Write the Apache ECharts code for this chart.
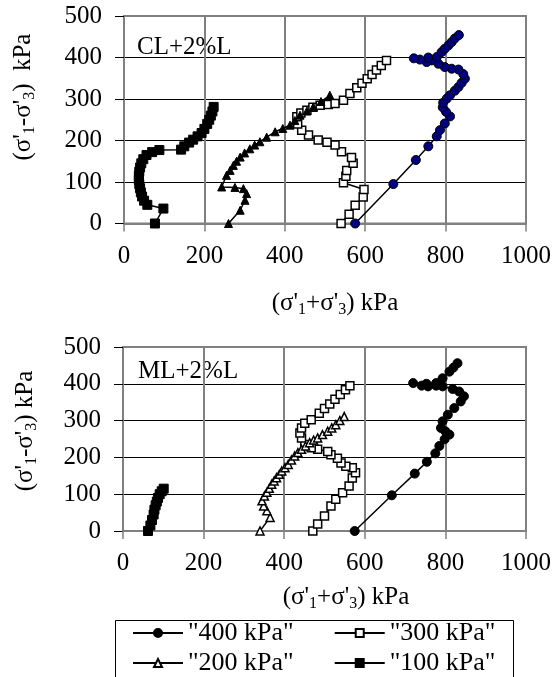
<!DOCTYPE html>
<html><head><meta charset="utf-8">
<script src="https://cdn.jsdelivr.net/npm/echarts@6/dist/echarts.min.js"></script>
<style>html,body{margin:0;padding:0;background:#fff}#c{width:554px;height:677px}</style>
</head><body><div id="c"></div>
<script>
const FONT = 'Liberation Serif';
const xTicks = [0, 200, 400, 600, 800, 1000];
const yTicks = [0, 100, 200, 300, 400, 500];
const seriesNames = ['"400 kPa"', '"300 kPa"', '"200 kPa"', '"100 kPa"'];
const panelLabels = ['CL+2%L', 'ML+2%L'];

// Top panel (CL+2%L)
const cl400 = [[575,0],[670,95],[726,153],[757,186],[778,210],[786,225],[798,241],[811,258],[801,269],[793,280],[794,291],[803,301],[811,309],[823,320],[832,329],[840,339],[848,349],[844,360],[832,371],[815,373],[798,377],[782,385],[765,393],[753,389],[736,395],[721,398],[757,400],[778,401],[790,413],[798,421],[807,429],[815,437],[823,446],[833,454]];
const cl300 = [[540,0],[560,22],[575,44],[595,64],[597,82],[546,98],[552,114],[554,128],[570,145],[566,159],[541,173],[525,189],[505,196],[483,201],[459,213],[442,225],[432,240],[430,257],[440,266],[455,273],[470,280],[488,285],[508,287],[525,289],[546,297],[562,313],[579,327],[592,338],[605,349],[617,359],[628,370],[640,381],[653,393]];
const cl200 = [[260,0],[289,32],[301,56],[305,72],[297,84],[276,87],[243,88],[255,116],[264,128],[272,140],[280,150],[289,160],[300,170],[313,180],[325,189],[338,197],[355,208],[376,221],[395,229],[413,237],[425,248],[438,261],[455,271],[471,281],[490,294],[512,309]];
const cl100 = [[77,0],[98,36],[58,45],[50,55],[45,65],[42,75],[40,85],[38,95],[37,105],[37,115],[38,125],[40,135],[43,145],[48,155],[56,165],[70,172],[88,177],[142,178],[150,186],[162,195],[172,202],[183,210],[193,218],[200,228],[207,240],[212,250],[216,260],[220,270],[223,281]];

// Bottom panel (ML+2%L)
const ml400 = [[575,0],[667,97],[724,156],[754,188],[775,211],[785,231],[798,249],[810,262],[800,271],[789,280],[793,298],[806,316],[822,334],[838,352],[846,366],[834,379],[818,386],[793,393],[777,395],[757,393],[741,395],[720,402],[753,400],[777,402],[793,415],[810,433],[820,444],[830,456]];
const ml300 = [[471,0],[483,19],[500,41],[516,68],[528,86],[545,104],[561,122],[569,144],[577,158],[569,172],[553,176],[541,185],[532,198],[516,207],[508,216],[483,222],[467,226],[451,235],[443,253],[439,266],[443,280],[451,293],[467,302],[487,320],[500,333],[513,345],[526,358],[539,371],[552,384],[563,395]];
const ml200 = [[340,0],[365,37],[357,55],[349,68],[345,82],[351,95],[357,105],[363,116],[369,127],[375,136],[381,145],[388,154],[394,163],[402,172],[410,181],[418,193],[426,204],[434,213],[443,222],[453,231],[463,240],[473,247],[483,253],[495,262],[508,271],[518,280],[528,289],[538,300],[549,311]];
const ml100 = [[62,0],[68,15],[72,30],[76,45],[78,58],[81,70],[84,80],[87,90],[91,100],[96,108],[101,115]];

function mk(name, data, g, symbol, fill, size, bw) {
  return {
    type: 'line', name: name, data: data, xAxisIndex: g, yAxisIndex: g,
    symbol: symbol, symbolSize: size, showSymbol: true, clip: false,
    lineStyle: { color: '#000', width: 1.5 },
    itemStyle: { color: fill, borderColor: '#000', borderWidth: bw },
    emphasis: { disabled: true }, animation: false
  };
}

function xAx(g) {
  return {
    type: 'value', gridIndex: g, min: xTicks[0], max: xTicks[xTicks.length - 1], interval: 200,
    axisLine: { show: true, onZero: false, lineStyle: { color: '#808080', width: 2 } },
    axisTick: { show: true, inside: false, length: 8, lineStyle: { color: '#808080', width: 1.5 } },
    axisLabel: { fontFamily: FONT, fontSize: 25, color: '#000', margin: 20, formatter: function (v) { return String(v); } },
    splitLine: { show: true, lineStyle: { color: '#808080', width: 2 } }
  };
}
function yAx(g) {
  return {
    type: 'value', gridIndex: g, min: yTicks[0], max: yTicks[yTicks.length - 1], interval: 100,
    axisLine: { show: true, lineStyle: { color: '#808080', width: 2 } },
    axisTick: { show: true, inside: false, length: 9, lineStyle: { color: '#000', width: 1 } },
    axisLabel: { fontFamily: FONT, fontSize: 25, color: '#000', margin: 22, formatter: function (v) { return String(v); } },
    splitLine: { show: true, lineStyle: { color: ['#808080', '#000', '#000', '#000', '#000', '#808080'], width: 1 } }
  };
}

const rich = {
  n: { fontFamily: FONT, fontSize: 25, fill: '#000', color: '#000' },
  s: { fontFamily: FONT, fontSize: 16, fill: '#000', color: '#000', padding: [14, 0, 0, 0] }
};
function axisTitle(text, x, y, rot) {
  return {
    type: 'text', x: x, y: y, rotation: rot, silent: true,
    style: { text: text, rich: rich, textAlign: 'center', textVerticalAlign: 'middle', fill: '#000' }
  };
}
const yTitleTop = "{n|(σ'}{s|1}{n|-σ'}{s|3}{n|)  kPa}";
const yTitleBot = "{n|(σ'}{s|1}{n|-σ'}{s|3}{n|) kPa}";
const xTitle = "{n|(σ'}{s|1}{n|+σ'}{s|3}{n|) kPa}";

const chart = echarts.init(document.getElementById('c'), null, { renderer: 'canvas' });
const legendText = { fontFamily: FONT, fontSize: 26, color: '#000' };
chart.setOption({
  backgroundColor: '#fff',
  animation: false,
  grid: [
    { left: 124, top: 16, width: 402, height: 207.5, show: true, borderColor: '#808080', borderWidth: 2, backgroundColor: 'transparent' },
    { left: 123, top: 347, width: 403, height: 184, show: true, borderColor: '#808080', borderWidth: 2, backgroundColor: 'transparent' }
  ],
  xAxis: [xAx(0), xAx(1)],
  yAxis: [yAx(0), yAx(1)],
  legend: [
    { left: 132, top: 620, padding: 0, itemWidth: 50, itemHeight: 10, itemGap: 40, textStyle: legendText,
      data: [seriesNames[0], seriesNames[1]], selectedMode: false },
    { left: 132, top: 650, padding: 0, itemWidth: 50, itemHeight: 10, itemGap: 40, textStyle: legendText,
      data: [seriesNames[2], seriesNames[3]], selectedMode: false }
  ],
  series: [
    mk(seriesNames[0], ml400, 1, 'circle', '#000', 9, 1),
    mk(seriesNames[1], ml300, 1, 'rect', '#fff', 8, 1.5),
    mk(seriesNames[2], ml200, 1, 'triangle', '#fff', 8, 1.5),
    mk(seriesNames[3], ml100, 1, 'rect', '#000', 9, 1),
    mk(seriesNames[0], cl400, 0, 'circle', '#000080', 9, 1),
    mk(seriesNames[1], cl300, 0, 'rect', '#fff', 8, 1.5),
    mk(seriesNames[2], cl200, 0, 'triangle', '#000', 8, 1),
    mk(seriesNames[3], cl100, 0, 'rect', '#000', 9, 1)
  ],
  graphic: [
    { type: 'text', x: 137, y: 47, silent: true, style: { text: panelLabels[0], font: '25px "Liberation Serif"', fill: '#000', textAlign: 'left', textVerticalAlign: 'middle' } },
    { type: 'text', x: 138, y: 371, silent: true, style: { text: panelLabels[1], font: '25px "Liberation Serif"', fill: '#000', textAlign: 'left', textVerticalAlign: 'middle' } },
    axisTitle(yTitleTop, 23, 97, Math.PI / 2),
    axisTitle(yTitleBot, 25, 431, Math.PI / 2),
    axisTitle(xTitle, 335, 303, 0),
    axisTitle(xTitle, 346, 597, 0),
    { type: 'rect', silent: true, shape: { x: 115.5, y: 620.5, width: 398, height: 70 }, style: { fill: 'none', stroke: '#000', lineWidth: 1 } }
  ]
});
</script></body></html>
